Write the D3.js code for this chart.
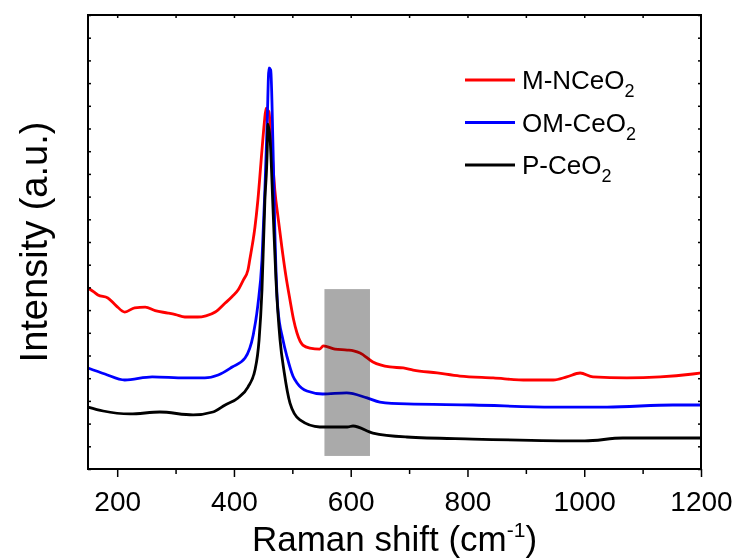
<!DOCTYPE html>
<html>
<head>
<meta charset="utf-8">
<script src="https://cdn.jsdelivr.net/npm/d3@7"></script>
<style>
  body { margin: 0; background: #fff; }
  svg text { font-family: Arial, "Liberation Sans", sans-serif; fill: #000; }
</style>
</head>
<body>
<svg id="chart" width="737" height="560"></svg>
<script>
// Raman spectra (intensity in arbitrary units)
const ramanMN = [150, 160, 167, 184, 198, 213, 230, 248, 265, 287, 300, 316, 338, 352, 368, 385, 397, 407, 416, 424, 427, 436, 441, 448, 452, 455, 458, 460, 463, 465, 470, 476, 482, 489, 496, 502, 508, 518, 530, 547, 553, 573, 594, 605, 616, 638, 667, 690, 707, 748, 787, 844, 902, 947, 970, 993, 1015, 1073, 1130, 1186, 1200];
const intMN = [1595, 1560, 1533, 1507, 1440, 1383, 1420, 1427, 1395, 1374, 1360, 1339, 1339, 1350, 1383, 1462, 1520, 1577, 1665, 1753, 1841, 2132, 2370, 2810, 3050, 3180, 3160, 3145, 2950, 2810, 2458, 2200, 1956, 1700, 1489, 1320, 1198, 1092, 1066, 1057, 1084, 1057, 1048, 1040, 1022, 943, 899, 890, 872, 846, 819, 802, 784, 784, 811, 846, 811, 802, 811, 837, 846];

const ramanOM = [150, 179, 213, 260, 316, 350, 373, 397, 419, 433, 441, 448, 453, 457, 460, 463, 467, 470, 475, 484, 491, 501, 508, 525, 552, 593, 628, 650, 696, 809, 946, 1039, 1152, 1200];
const intOM = [890, 837, 784, 811, 802, 802, 828, 899, 978, 1181, 1445, 1841, 2458, 3075, 3533, 3515, 2810, 2106, 1427, 1136, 987, 819, 758, 687, 661, 670, 626, 590, 573, 564, 546, 546, 564, 564];

const ramanP = [150, 176, 222, 273, 330, 364, 385, 407, 424, 436, 443, 448, 453, 457, 458, 462, 467, 472, 479, 486, 496, 513, 547, 594, 604, 638, 696, 809, 1001, 1066, 1200];
const intP = [546, 511, 485, 502, 476, 502, 564, 626, 722, 872, 1136, 1577, 2370, 2810, 3039, 2898, 2282, 1665, 1136, 855, 581, 432, 370, 370, 379, 317, 282, 264, 247, 273, 273];

const seriesNames = ["M-NCeO", "OM-CeO", "P-CeO"];
const seriesColors = ["#ff0000", "#0000ff", "#000000"];
const xTicks = [200, 400, 600, 800, 1000, 1200];
const shadeBand = [555, 633];
const shadeInt = [115, 1585];

const svg = d3.select("#chart");
const plotL = 88, plotR = 701, plotT = 15, plotB = 469;

const x = d3.scaleLinear().domain([150, 1200]).range([plotL, plotR]);
const y = d3.scaleLinear().domain([0, 4000]).range([plotB, plotT]);

// curves
const line = d3.line()
	.x((d) => x(d[0]))
	.y((d) => y(d[1]))
	.curve(d3.curveMonotoneX);
const series = [
	d3.zip(ramanMN, intMN),
	d3.zip(ramanOM, intOM),
	d3.zip(ramanP, intP),
];
series.forEach((s, i) => {
	svg.append("path")
		.datum(s)
		.attr("d", line)
		.style("fill", "none")
		.style("stroke", seriesColors[i])
		.style("stroke-width", "2.8px")
		.style("stroke-linejoin", "round");
});

// shaded region on top (multiply so the lines darken under it)
svg.append("rect")
	.attr("x", x(shadeBand[0]))
	.attr("y", y(shadeInt[1]))
	.attr("width", x(shadeBand[1]) - x(shadeBand[0]))
	.attr("height", y(shadeInt[0]) - y(shadeInt[1]))
	.style("fill", "#aaaaaa")
	.style("mix-blend-mode", "multiply");

// axes
const bottomAxis = svg.append("g")
	.attr("transform", `translate(0,${plotB})`)
	.call(d3.axisBottom(x).tickValues(xTicks).tickFormat(d3.format("d"))
		.tickSize(8).tickPadding(14).tickSizeOuter(0));
svg.append("g")
	.attr("transform", `translate(0,${plotB})`)
	.call(d3.axisBottom(x).tickValues(d3.range(300, 1200, 200)).tickSize(5).tickFormat("").tickSizeOuter(0));
svg.append("g")
	.attr("transform", `translate(0,${plotT})`)
	.call(d3.axisBottom(x).tickValues(d3.range(200, 1200, 100)).tickSize(3).tickFormat("").tickSizeOuter(0));
svg.append("g")
	.attr("transform", `translate(${plotL},0)`)
	.call(d3.axisRight(y).ticks(16).tickSize(3).tickFormat("").tickSizeOuter(0));
svg.append("g")
	.attr("transform", `translate(${plotR},0)`)
	.call(d3.axisLeft(y).ticks(16).tickSize(3).tickFormat("").tickSizeOuter(0));

svg.selectAll(".domain").remove();
svg.selectAll(".tick line").style("stroke", "#000").style("stroke-width", "1.5px");
bottomAxis.selectAll(".tick text").style("font-size", "28px");

svg.append("rect")
	.attr("x", plotL)
	.attr("y", plotT)
	.attr("width", plotR - plotL)
	.attr("height", plotB - plotT)
	.style("fill", "none")
	.style("stroke", "#000")
	.style("stroke-width", "2px");

// axis titles
const xTitle = svg.append("text")
	.attr("x", (plotL + plotR) / 2)
	.attr("y", 551)
	.attr("text-anchor", "middle")
	.style("font-size", "35px");
xTitle.append("tspan").text("Raman shift (cm");
xTitle.append("tspan").attr("dy", -14).style("font-size", "21px").text("-1");
xTitle.append("tspan").attr("dy", 14).text(")");

svg.append("text")
	.attr("transform", `translate(47,${(plotT + plotB) / 2}) rotate(-90)`)
	.attr("text-anchor", "middle")
	.style("font-size", "38px")
	.text("Intensity (a.u.)");

// legend
const legend = svg.append("g");
seriesNames.forEach((name, i) => {
	const ly = 80 + i * 42.5;
	legend.append("line")
		.attr("x1", 465).attr("x2", 515)
		.attr("y1", ly).attr("y2", ly)
		.style("stroke", seriesColors[i])
		.style("stroke-width", "3px");
	const t = legend.append("text")
		.attr("x", 522)
		.attr("y", ly + 9)
		.style("font-size", "26px");
	t.append("tspan").text(name);
	t.append("tspan").attr("dy", 8).style("font-size", "18px").text("2");
});
</script>
</body>
</html>
